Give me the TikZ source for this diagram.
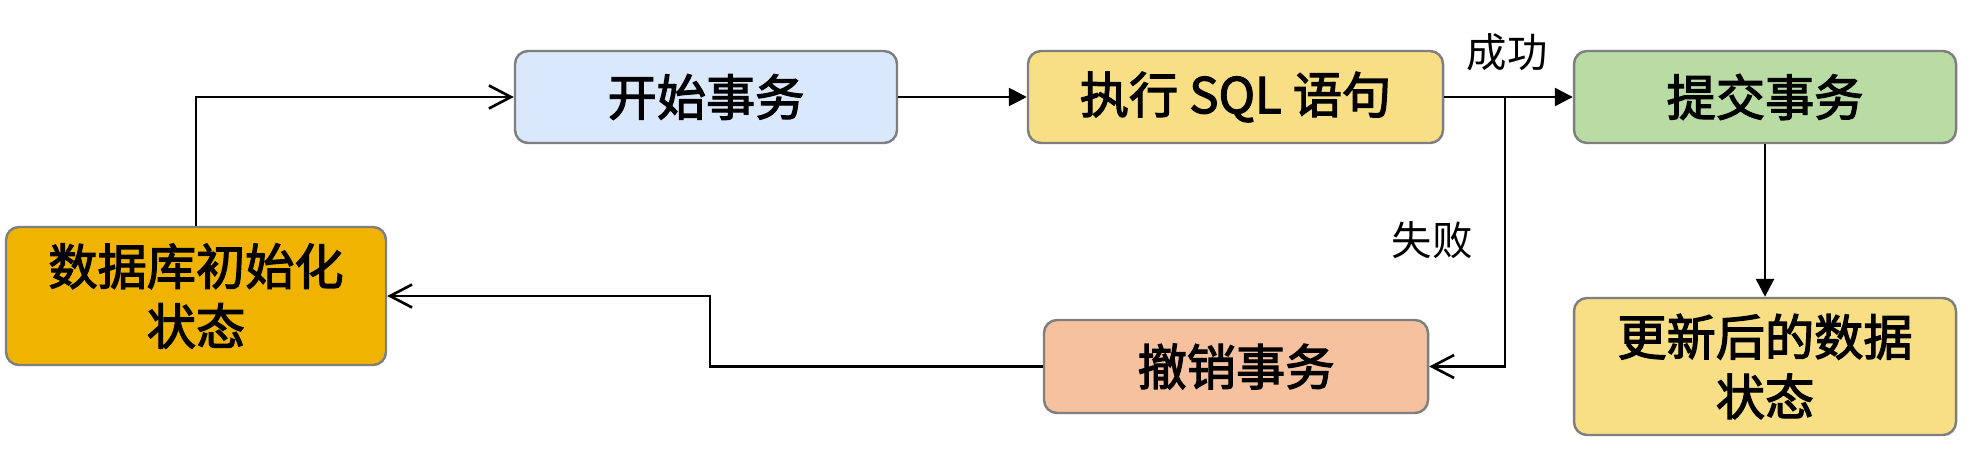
\documentclass[tikz,border=0pt]{standalone}
\usepackage{fontspec}
\setmainfont{Noto Sans CJK SC}
\newfontfamily\boxfont{Noto Sans CJK SC}[RawFeature = {embolden=2.5}]
\usetikzlibrary{arrows.meta}

\definecolor{boxline}{HTML}{7F7F7F}
\definecolor{startfill}{HTML}{DAE8FC}
\definecolor{execfill}{HTML}{F8DF86}
\definecolor{commitfill}{HTML}{B9DCA4}
\definecolor{undofill}{HTML}{F5C19F}
\definecolor{dbfill}{HTML}{F0B400}

\begin{document}
\begin{tikzpicture}[x = 0.1mm, y = -0.1mm,
    box/.style = {draw = boxline, line width = 0.7pt, rounded corners = 1.3mm,
                  minimum height = 9.2mm, inner sep = 0, align = center,
                  font = \boxfont\fontsize{14pt}{17pt}\selectfont},
    flow/.style = {line width = 0.75pt, -{Triangle[length = 1.8mm, width = 1.8mm]}},
    back/.style = {line width = 0.75pt, -{Straight Barb[length = 2.2mm, width = 2.3mm]}},
    tag/.style  = {font = \fontsize{11.5pt}{13pt}\selectfont}]

    \useasboundingbox (0, 0) rectangle (1976, 461);

    % top row
    \node [box, fill = startfill,  minimum width = 38.2mm] (start)  at (706, 97)    {开始事务};
    \node [box, fill = execfill,   minimum width = 41.5mm] (exec)   at (1235.5, 97) {执行 SQL 语句};
    \node [box, fill = commitfill, minimum width = 38.2mm] (commit) at (1765, 97)   {提交事务};

    % bottom row
    \node [box, fill = dbfill,     minimum width = 38mm, minimum height = 13.8mm] (db) at (196, 296) {数据库初始化\\状态};
    \node [box, fill = undofill,   minimum width = 38.4mm, minimum height = 9.3mm] (undo) at (1236, 366.5) {撤销事务};
    \node [box, fill = execfill,   minimum width = 38.2mm, minimum height = 13.7mm] (update) at (1765, 366.5) {更新后的数据\\状态};

    % connectors
    \draw [back] (db.north) |- (start.west);
    \draw [flow] (start.east) -- (exec.west);
    \draw [flow] (exec.east) -- (commit.west);
    \draw [flow] (commit.south) -- (update.north);

    \coordinate (split) at (1505, 97);
    \draw [back] (split) |- (undo.east);

    \coordinate (turn) at (710, 330);
    \draw [back] (undo.west) -| (turn) |- (db.east);

    % labels
    \node [tag] (ok)   at (1507, 52)  {成功};
    \node [tag] (fail) at (1432, 240) {失败};

\end{tikzpicture}
\end{document}
